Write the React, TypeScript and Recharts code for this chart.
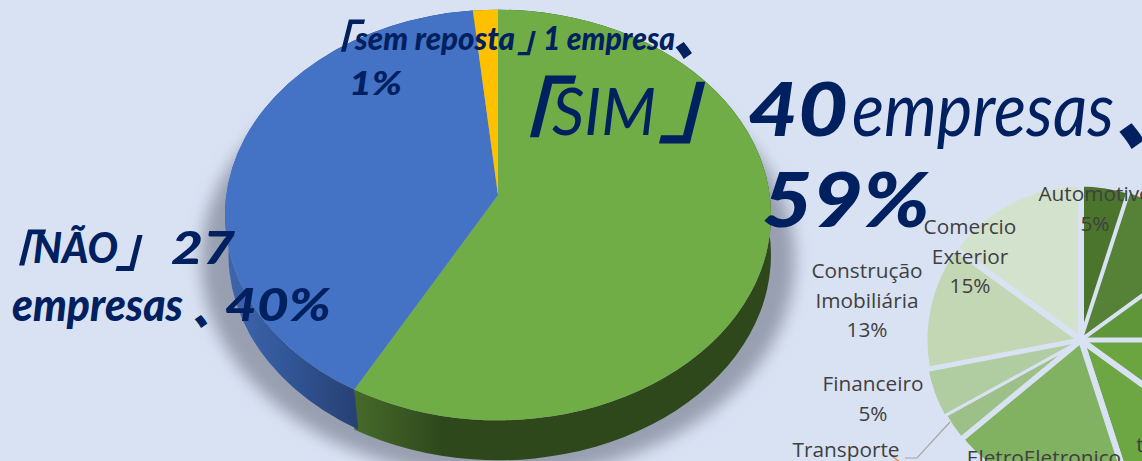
import { PieChart, Pie, Cell } from "recharts";

const WIDTH = 1142;
const HEIGHT = 461;
const BG = "#D9E2F3";

// main pie
const answers = ["SIM", "NÃO", "sem reposta"];
const companies = [40, 27, 1];
const topColors = ["#70AD47", "#4472C4", "#FFC000"];
const sideFills = ["url(#sideGreen)", "url(#sideBlue)", "#7f6000"];

// small pie, clockwise from the top. Names past the crop edge can't be read.
const sectors = ["Automotivo", "", "", "", "", "EletroEletronico", "Transporte", "Financeiro", "Construção Imobiliária", "Comercio Exterior"];
const sectorShare = [5, 10, 10, 10, 10, 19, 3, 5, 13, 15];
const sectorColors = ["#4B742D", "#558237", "#5F963A", "#6AA53F", "#6CA743", "#80B262", "#9DC088", "#AFCDA0", "#C3D7B5", "#D3E2CC"];
const sectorGaps = [5, 3, 4, 5, 6, 6, 5, 1.5, 5, 6];

const mainData = answers.map((name, i) => ({ name, value: companies[i] }));
const sectorData = sectors.map((name, i) => ({ name: name || `s${i}`, value: sectorShare[i] }));

// Fake 3D: rim follows an ellipse centred a bit below the apex
const Y_SCALE = 0.752;
const CENTER_DROP = 20;
const DEPTH = 40;

function rim(cx: number, cy: number, r: number, deg: number, dy = 0) {
  const a = (deg * Math.PI) / 180;
  return {
    x: cx + r * Math.cos(a),
    y: cy + CENTER_DROP + dy - r * Y_SCALE * Math.sin(a),
  };
}

function TopSlice(p: any) {
  const r = p.outerRadius;
  const s = rim(p.cx, p.cy, r, p.startAngle);
  const e = rim(p.cx, p.cy, r, p.endAngle);
  const large = Math.abs(p.startAngle - p.endAngle) > 180 ? 1 : 0;
  return (
    <path
      d={`M${p.cx} ${p.cy}L${s.x} ${s.y}A${r} ${r * Y_SCALE} 0 ${large} 1 ${e.x} ${e.y}Z`}
      fill={p.fill}
    />
  );
}

function SideSlice(p: any) {
  const r = p.outerRadius;
  const ry = r * Y_SCALE;
  const s = rim(p.cx, p.cy, r, p.startAngle);
  const e = rim(p.cx, p.cy, r, p.endAngle);
  const large = Math.abs(p.startAngle - p.endAngle) > 180 ? 1 : 0;
  return (
    <path
      d={`M${s.x} ${s.y}A${r} ${ry} 0 ${large} 1 ${e.x} ${e.y}L${e.x} ${e.y + DEPTH}A${r} ${ry} 0 ${large} 0 ${s.x + 4} ${s.y + DEPTH}Z`}
      fill={p.fill}
    />
  );
}

const NAVY = "#002060";
const SANS = "Lato, 'Noto Sans', sans-serif";
const CJK = "'Noto Sans CJK JP', sans-serif";

type Piece = { t: string; x: number; y: number; size: number; w: number; weight?: number; font?: string };

const bigLabels: Piece[] = [
  { t: "「", x: 463, y: 157, size: 96, w: 96, weight: 500, font: CJK },
  { t: "SIM", x: 552, y: 135, size: 66, w: 104, weight: 400 },
  { t: "」", x: 658, y: 135, size: 96, w: 96, weight: 500, font: CJK },
  { t: "40", x: 748, y: 136, size: 74, w: 100, weight: 900 },
  { t: "empresas", x: 852, y: 136, size: 75, w: 262, weight: 400 },
  { t: "、", x: 1114, y: 143, size: 78, w: 78, weight: 900, font: CJK },
  { t: "59%", x: 762, y: 227, size: 76, w: 168, weight: 900 },
  { t: "「", x: 306, y: 62, size: 50, w: 50, weight: 500, font: CJK },
  { t: "sem reposta", x: 355, y: 50, size: 33, w: 160, weight: 900 },
  { t: "」", x: 517, y: 52, size: 38, w: 38, weight: 500, font: CJK },
  { t: "1 empresa", x: 543, y: 50, size: 33, w: 132, weight: 900 },
  { t: "、", x: 672, y: 55, size: 52, w: 52, weight: 900, font: CJK },
  { t: "1%", x: 349, y: 95, size: 33, w: 53, weight: 900 },
  { t: "「", x: -20, y: 277, size: 56, w: 56, weight: 500, font: CJK },
  { t: "NÃO", x: 33, y: 263, size: 42, w: 85, weight: 900 },
  { t: "」", x: 115, y: 266, size: 56, w: 56, weight: 500, font: CJK },
  { t: "27", x: 171, y: 264, size: 46, w: 64, weight: 900 },
  { t: "empresas", x: 12, y: 321, size: 45, w: 171, weight: 900 },
  { t: "、", x: 192, y: 325, size: 40, w: 40, weight: 900, font: CJK },
  { t: "40%", x: 225, y: 321, size: 46, w: 106, weight: 900 },
];

const sectorLabels = [
  { lines: ["Automotivo", "5%"], x: 1095, y: 201 },
  { lines: ["Comercio", "Exterior", "15%"], x: 970, y: 234 },
  { lines: ["Construção", "Imobiliária", "13%"], x: 867, y: 278 },
  { lines: ["Financeiro", "5%"], x: 873, y: 391 },
  { lines: ["Transporte"], x: 846, y: 457 },
  { lines: ["EletroEletronico"], x: 1044, y: 465 },
  { lines: ["t"], x: 1140, y: 452 },
];

export default function App() {
  return (
    <div style={{ position: "fixed", left: 0, top: 0, width: WIDTH, height: HEIGHT, overflow: "hidden", background: BG }}>
      <svg width={WIDTH} height={HEIGHT} style={{ position: "absolute", left: 0, top: 0 }}>
        <defs>
          <filter id="soft" x="-20%" y="-20%" width="140%" height="140%">
            <feGaussianBlur stdDeviation="8" />
          </filter>
          <linearGradient id="sideGreen" gradientUnits="userSpaceOnUse" x1="360" y1="0" x2="771" y2="0">
            <stop offset="0" stopColor="#456829" />
            <stop offset="0.2" stopColor="#2E481C" />
            <stop offset="1" stopColor="#2E481C" />
          </linearGradient>
          <linearGradient id="sideBlue" gradientUnits="userSpaceOnUse" x1="225" y1="0" x2="362" y2="0">
            <stop offset="0" stopColor="#3F66AE" />
            <stop offset="0.4" stopColor="#33589B" />
            <stop offset="1" stopColor="#263F70" />
          </linearGradient>
        </defs>
        <ellipse cx={498} cy={260} rx={297} ry={218} fill="#979FB0" filter="url(#soft)" />
      </svg>

      <div style={{ position: "absolute", left: 0, top: 0 }}>
        <PieChart width={WIDTH} height={HEIGHT} margin={{ top: 0, right: 0, bottom: 0, left: 0 }}>
          <Pie
            data={mainData}
            dataKey="value"
            cx={498}
            cy={195}
            outerRadius={273}
            startAngle={90}
            endAngle={-270}
            stroke="none"
            shape={SideSlice}
            isAnimationActive={false}
          >
            {mainData.map((d, i) => (
              <Cell key={d.name} fill={sideFills[i]} />
            ))}
          </Pie>
          <Pie
            data={mainData}
            dataKey="value"
            cx={498}
            cy={195}
            outerRadius={273}
            startAngle={90}
            endAngle={-270}
            stroke="none"
            shape={TopSlice}
            isAnimationActive={false}
          >
            {mainData.map((d, i) => (
              <Cell key={d.name} fill={topColors[i]} />
            ))}
          </Pie>
          <Pie
            data={sectorData}
            dataKey="value"
            cx={1081}
            cy={340}
            outerRadius={156}
            startAngle={90}
            endAngle={-270}
            isAnimationActive={false}
          >
            {sectorData.map((d, i) => (
              <Cell key={d.name} fill={sectorColors[i]} stroke={BG} strokeWidth={sectorGaps[i]} />
            ))}
          </Pie>
        </PieChart>
      </div>

      <svg width={WIDTH} height={HEIGHT} style={{ position: "absolute", left: 0, top: 0 }}>
        <polyline points="950,422 917,458 905,458" fill="none" stroke="#A6A6A6" strokeWidth={1.2} />
        <line x1={893} y1={457} x2={900} y2={462} stroke="#ED7D31" strokeWidth={1.2} />
        {sectorLabels.map((l) =>
          l.lines.map((line, i) => (
            <text
              key={line + l.x}
              x={l.x}
              y={l.y + i * 29.5}
              textAnchor="middle"
              fontFamily="'Open Sans', sans-serif"
              fontSize={20.8}
              fill="#404040"
            >
              {line}
            </text>
          ))
        )}
        {bigLabels.map((p) => (
          <text
            key={p.t + p.x}
            x={p.x}
            y={p.y}
            fontFamily={p.font ?? SANS}
            fontSize={p.size}
            fontStyle="italic"
            fontWeight={p.weight ?? 400}
            fill={NAVY}
            textLength={p.w}
            lengthAdjust="spacingAndGlyphs"
          >
            {p.t}
          </text>
        ))}
      </svg>
    </div>
  );
}
